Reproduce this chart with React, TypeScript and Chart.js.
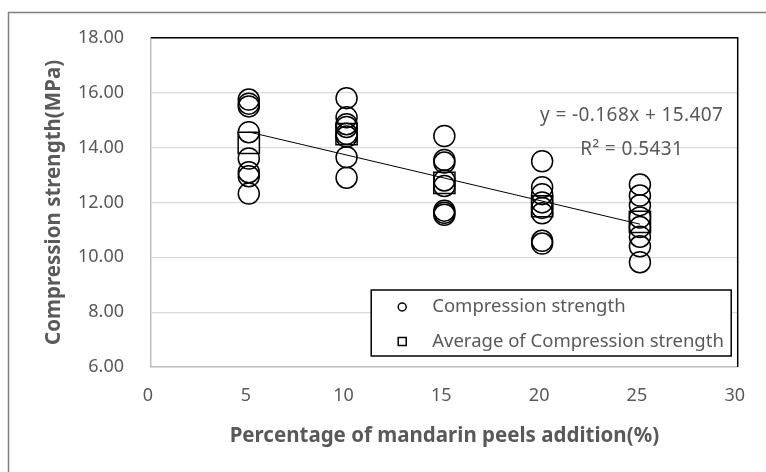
import React, { useEffect, useRef } from "react";
import { Chart, registerables } from "chart.js";

Chart.register(...registerables);

// ---- data ----
const CATEGORIES = [5, 10, 15, 20, 25];
const STRENGTH_5 = [15.75, 15.6, 15.5, 14.56, 13.6, 13.1, 12.95, 12.32];
const STRENGTH_10 = [15.8, 15.1, 14.85, 14.75, 14.5, 14.4, 13.65, 12.9];
const STRENGTH_15 = [14.42, 13.55, 13.45, 12.8, 12.6, 11.7, 11.62, 11.55];
const STRENGTH_20 = [13.5, 12.55, 12.3, 12.0, 11.8, 11.6, 10.6, 10.5];
const STRENGTH_25 = [12.65, 12.25, 11.9, 11.45, 11.1, 10.75, 10.4, 9.82];
const AVERAGES = [14.17, 14.49, 12.71, 11.86, 11.29];
const TREND_SLOPE = -0.168;
const TREND_INTERCEPT = 15.407;
const R_SQUARED = "0.5431";
const X_MIN = 0;
const X_MAX = 30;
const X_STEP = 5;
const Y_MIN = 6;
const Y_MAX = 18;
const Y_STEP = 2;
const SERIES_LABELS = ["Compression strength", "Average of Compression strength"];
const X_TITLE = "Percentage of mandarin peels addition(%)";
const Y_TITLE = "Compression strength(MPa)";

const GROUPS = [STRENGTH_5, STRENGTH_10, STRENGTH_15, STRENGTH_20, STRENGTH_25];

const FONT = "'Noto Sans', 'Open Sans', sans-serif";
const GRAY = "#595959";

const decorPlugin = {
  id: "decor",
  beforeDraw(chart: any) {
    const ctx = chart.ctx;
    ctx.save();
    ctx.fillStyle = "#ffffff";
    ctx.fillRect(0, 0, chart.width, chart.height);
    ctx.strokeStyle = "#7f7f7f";
    ctx.lineWidth = 1.5;
    ctx.beginPath();
    ctx.moveTo(8.5, chart.height);
    ctx.lineTo(8.5, 12.5);
    ctx.lineTo(chart.width, 12.5);
    ctx.stroke();
    ctx.restore();
  },
  afterDraw(chart: any) {
    const { ctx, chartArea: a } = chart;
    ctx.save();
    // black top & right frame of plot area
    ctx.strokeStyle = "#000000";
    ctx.lineWidth = 1.5;
    ctx.beginPath();
    ctx.moveTo(a.left, a.top);
    ctx.lineTo(a.right, a.top);
    ctx.lineTo(a.right, a.bottom);
    ctx.stroke();

    // trendline equation
    ctx.fillStyle = GRAY;
    ctx.font = `19px ${FONT}`;
    (ctx as any).letterSpacing = "0.4px";
    ctx.textAlign = "center";
    ctx.textBaseline = "middle";
    const cx = a.right - 106;
    ctx.fillText(`y = ${TREND_SLOPE}x + ${TREND_INTERCEPT}`, cx, a.top + 78);
    ctx.fillText(`R\u00B2 = ${R_SQUARED}`, cx, a.top + 112);
    (ctx as any).letterSpacing = "0px";

    // legend
    const bw = 360;
    const bh = 66;
    const bx = a.right - 6.5 - bw;
    const by = a.bottom - 11 - bh;
    ctx.fillStyle = "#ffffff";
    ctx.fillRect(bx, by, bw, bh);
    ctx.strokeStyle = "#000000";
    ctx.lineWidth = 1.5;
    ctx.strokeRect(bx, by, bw, bh);
    const mx = bx + 31;
    const y1 = by + 17;
    const y2 = by + 51.5;
    ctx.beginPath();
    ctx.arc(mx, y1, 4, 0, Math.PI * 2);
    ctx.stroke();
    ctx.strokeRect(mx - 4, y2 - 4, 8, 8);
    ctx.fillStyle = GRAY;
    ctx.textAlign = "left";
    ctx.font = `18.5px ${FONT}`;
    ctx.fillText(SERIES_LABELS[0], bx + 61, y1);
    ctx.fillText(SERIES_LABELS[1], bx + 61, y2);
    ctx.restore();
  },
};

export default function App() {
  const ref = useRef<HTMLCanvasElement | null>(null);

  useEffect(() => {
    if (!ref.current) return;
    const points: { x: number; y: number }[] = [];
    GROUPS.forEach((g, i) => g.forEach((v) => points.push({ x: CATEGORIES[i], y: v })));
    const avgPoints = CATEGORIES.map((c, i) => ({ x: c, y: AVERAGES[i] }));
    const xFirst = CATEGORIES[0];
    const xLast = CATEGORIES[CATEGORIES.length - 1];
    const trend = [
      { x: xFirst, y: TREND_INTERCEPT + TREND_SLOPE * xFirst },
      { x: xLast, y: TREND_INTERCEPT + TREND_SLOPE * xLast },
    ];

    const chart = new Chart(ref.current, {
      type: "scatter",
      data: {
        datasets: [
          {
            label: SERIES_LABELS[0],
            data: points,
            pointStyle: "circle",
            pointRadius: 10.5,
            pointBorderWidth: 1.5,
            pointBorderColor: "#000000",
            pointBackgroundColor: "rgba(0,0,0,0)",
            borderColor: "#000000",
            backgroundColor: "rgba(0,0,0,0)",
          },
          {
            label: SERIES_LABELS[1],
            data: avgPoints,
            pointStyle: "rect",
            pointRadius: 15,
            pointBorderWidth: 1.5,
            pointBorderColor: "#000000",
            pointBackgroundColor: "rgba(0,0,0,0)",
            borderColor: "#000000",
            backgroundColor: "rgba(0,0,0,0)",
          },
          {
            label: "trend",
            data: trend,
            showLine: true,
            pointRadius: 0,
            borderColor: "#000000",
            borderWidth: 1,
          } as any,
        ],
      },
      options: {
        animation: false,
        responsive: false,
        layout: { padding: { left: 8, top: 35, right: 28, bottom: 0 } },
        plugins: {
          legend: { display: false },
          tooltip: { enabled: false },
        },
        scales: {
          x: {
            type: "linear",
            min: X_MIN,
            max: X_MAX,
            afterFit: (s: any) => {
              s.height = 105;
            },
            ticks: {
              stepSize: X_STEP,
              color: GRAY,
              font: { family: FONT, size: 18 },
              padding: 18,
              labelOffset: -3,
            },
            grid: { display: false, drawTicks: false },
            border: { display: true, color: "#bfbfbf", width: 1.5 },
            title: {
              display: true,
              text: X_TITLE,
              color: GRAY,
              font: { family: FONT, size: 20.5, weight: "bold" },
              padding: 24,
            },
          },
          y: {
            type: "linear",
            min: Y_MIN,
            max: Y_MAX,
            afterFit: (s: any) => {
              s.width = 143;
            },
            ticks: {
              stepSize: Y_STEP,
              color: GRAY,
              font: { family: FONT, size: 18 },
              padding: 27,
              callback: (v: any) => Number(v).toFixed(2),
            },
            grid: { color: "#d9d9d9", lineWidth: 1.2, drawTicks: false },
            border: { display: true, color: "#bfbfbf", width: 1.5 },
            title: {
              display: true,
              text: Y_TITLE,
              color: GRAY,
              font: { family: FONT, size: 20.5, weight: "bold" },
              padding: 34,
            },
          },
        },
      },
      plugins: [decorPlugin],
    });
    return () => chart.destroy();
  }, []);

  return (
    <div style={{ position: "fixed", left: 0, top: 0, width: 766, height: 472, background: "#fff" }}>
      <canvas ref={ref} width={766} height={472} style={{ display: "block" }} />
    </div>
  );
}
